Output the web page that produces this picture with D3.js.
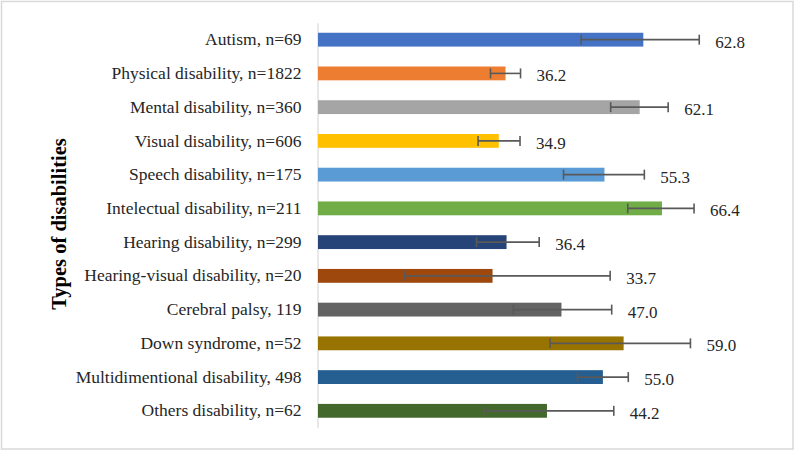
<!DOCTYPE html>
<html><head><meta charset="utf-8">
<script src="https://cdn.jsdelivr.net/npm/d3@7"></script>
<style>html,body{margin:0;padding:0;background:#fff;}</style>
</head><body>
<script>
const categories = ["Autism, n=69","Physical disability, n=1822","Mental disability, n=360","Visual disability, n=606","Speech disability, n=175","Intelectual disability, n=211","Hearing disability, n=299","Hearing-visual disability, n=20","Cerebral palsy, 119","Down syndrome, n=52","Multidimentional disability, 498","Others disability, n=62"];
const values = [62.8,36.2,62.1,34.9,55.3,66.4,36.4,33.7,47.0,59.0,55.0,44.2];
const errLow = [50.8,33.3,56.5,30.9,47.4,59.8,30.6,16.7,37.7,44.8,50.1,32.0];
const errHigh = [73.6,39.1,67.6,39.0,63.0,72.6,42.7,56.4,56.7,71.9,59.9,57.1];
const colors = ["#4472C4","#ED7D31","#A5A5A5","#FFC000","#5B9BD5","#70AD47","#264478","#9E480E","#636363","#997300","#255E91","#43682B"];
const yTitle = "Types of disabilities";

const W = 796, H = 452;
const svg = d3.select("body").append("svg").attr("width", W).attr("height", H);
svg.append("rect").attr("x",1.5).attr("y",1.5).attr("width",W-4.5).attr("height",H-4.5)
  .attr("fill","#fff").attr("stroke","#d9d9d9").attr("stroke-width",1.5);

const x0 = 318;
const x = d3.scaleLinear().domain([0, 90]).range([x0, x0 + 90*5.18]);
const y = d3.scaleBand().domain(categories).range([22.8, 427.7]).paddingInner(0.59).paddingOuter(0.295);

const font = "'Liberation Serif','Times New Roman',serif";

// axis
const yAxis = d3.axisLeft(y).tickSize(0).tickPadding(16);
const ga = svg.append("g").attr("transform",`translate(${x0-0.5},0)`).call(yAxis);
ga.select(".domain").attr("stroke","#d9d9d9").attr("stroke-width",1.2);
ga.selectAll("text").attr("font-family",font).attr("font-size","17.5px").attr("fill","#262626");

// bars
svg.append("g").selectAll("rect").data(categories).join("rect")
  .attr("x", x(0)).attr("y", d => y(d))
  .attr("width", (d,i) => x(values[i]) - x(0)).attr("height", y.bandwidth())
  .attr("fill", (d,i) => colors[i]);

// error bars
const eg = svg.append("g").attr("stroke","#595959").attr("stroke-width",1.6);
categories.forEach((c,i) => {
  const cy = y(c) + y.bandwidth()/2;
  eg.append("line").attr("x1",x(errLow[i])).attr("x2",x(errHigh[i])).attr("y1",cy).attr("y2",cy);
  [errLow[i], errHigh[i]].forEach(v => {
    eg.append("line").attr("x1",x(v)).attr("x2",x(v)).attr("y1",cy-5).attr("y2",cy+5);
  });
});

// value labels
svg.append("g").selectAll("text").data(categories).join("text")
  .attr("x", (d,i) => x(errHigh[i]) + 16)
  .attr("y", d => y(d) + y.bandwidth()/2 + 8)
  .attr("font-family", font).attr("font-size","17px").attr("fill","#262626")
  .text((d,i) => values[i].toFixed(1));

// y title
svg.append("text").attr("transform","translate(66,224) rotate(-90)")
  .attr("text-anchor","middle").attr("font-family",font).attr("font-weight","bold")
  .attr("font-size","20.5px").attr("fill","#000").text(yTitle);
</script>
</body></html>
